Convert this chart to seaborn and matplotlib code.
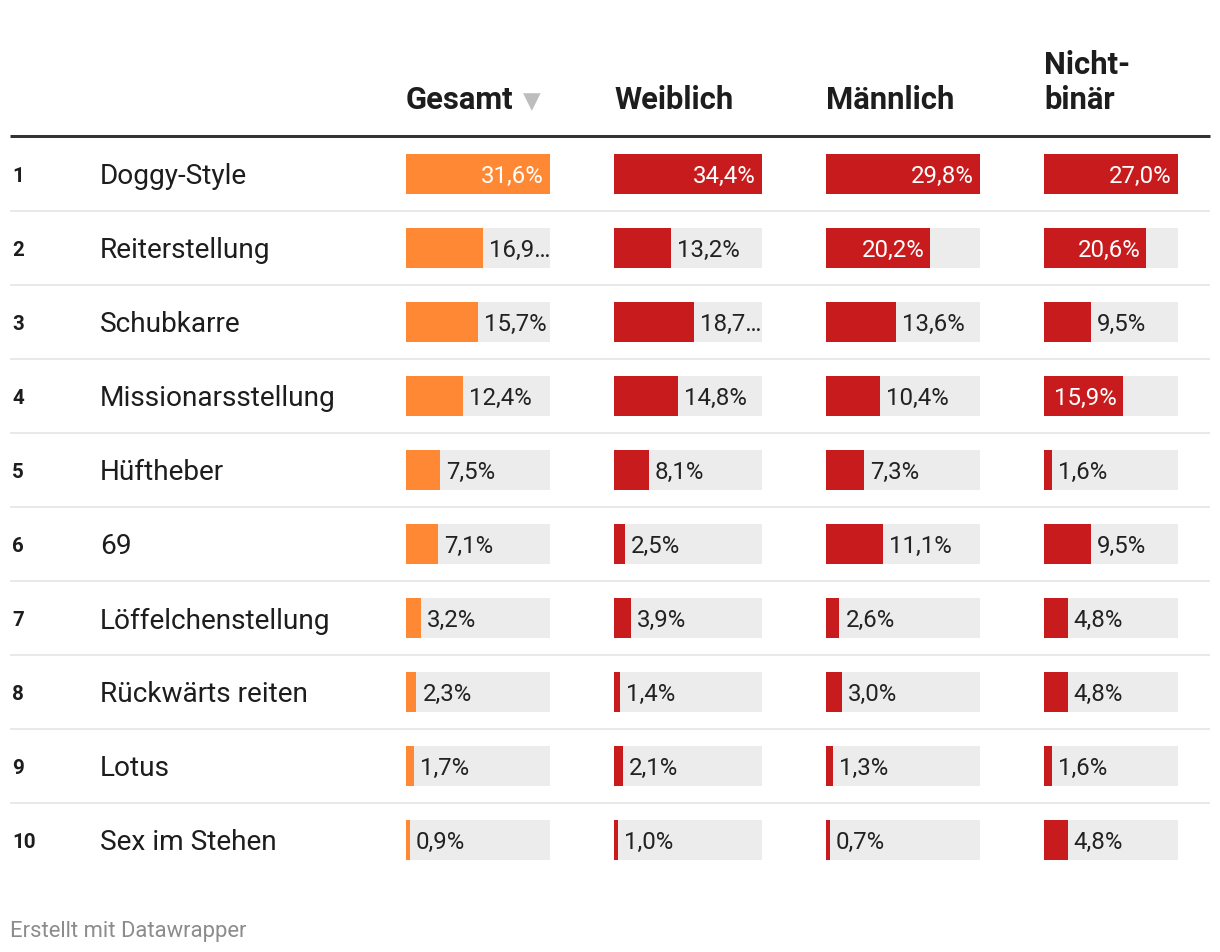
import matplotlib
matplotlib.use("Agg")
import matplotlib.pyplot as plt
import seaborn as sns
import pandas as pd

# ---------------- data ----------------
ranks = ["1", "2", "3", "4", "5", "6", "7", "8", "9", "10"]
positions = ["Doggy-Style", "Reiterstellung", "Schubkarre", "Missionarsstellung",
             "Hüftheber", "69", "Löffelchenstellung", "Rückwärts reiten",
             "Lotus", "Sex im Stehen"]
columns = ["Gesamt", "Weiblich", "Männlich", "Nicht-\nbinär"]
gesamt = [31.6, 16.9, 15.7, 12.4, 7.5, 7.1, 3.2, 2.3, 1.7, 0.9]
weiblich = [34.4, 13.2, 18.7, 14.8, 8.1, 2.5, 3.9, 1.4, 2.1, 1.0]
maennlich = [29.8, 20.2, 13.6, 10.4, 7.3, 11.1, 2.6, 3.0, 1.3, 0.7]
nichtbinaer = [27.0, 20.6, 9.5, 15.9, 1.6, 9.5, 4.8, 4.8, 1.6, 4.8]
series = [gesamt, weiblich, maennlich, nichtbinaer]
footer = "Erstellt mit Datawrapper"

# ---------------- style ----------------
sns.set_theme(style="white")
plt.rcParams["font.family"] = ["Roboto", "DejaVu Sans"]

W, H = 1220, 952
fig = plt.figure(figsize=(W / 100, H / 100), dpi=100)
PX = 0.72  # points per pixel

ORANGE = "#fe8833"
RED = "#c71b1d"
GREY = "#ececec"
DARK = "#1d1d1d"

bg = fig.add_axes([0, 0, 1, 1])
bg.set_xlim(0, W)
bg.set_ylim(H, 0)
bg.axis("off")

col_x = [406, 614, 826, 1044]
col_w = [144, 148, 154, 134]
row_top = 137
row_h = 74
n = len(positions)

HDR = 31 * PX
# header
for cx, name in zip(col_x, columns):
    if "\n" in name:
        a, b = name.split("\n")
        bg.text(cx, 74, a, ha="left", va="baseline", fontsize=HDR,
                fontweight="bold", color=DARK)
        bg.text(cx, 109, b, ha="left", va="baseline", fontsize=HDR,
                fontweight="bold", color=DARK)
    else:
        bg.text(cx, 109, name, ha="left", va="baseline", fontsize=HDR,
                fontweight="bold", color=DARK)
bg.text(523, 108, "▼", ha="left", va="baseline", fontsize=23 * PX,
        color="#bdbdbd", family=["DejaVu Sans"])

bg.plot([10, 1210], [136, 136], color="#333333", lw=3 * PX,
        solid_capstyle="butt")
for k in range(1, n):
    y = row_top + k * row_h
    bg.plot([10, 1210], [y, y], color="#e9e9e9", lw=2 * PX,
            solid_capstyle="butt")

for i in range(n):
    yc = row_top + row_h * i + row_h / 2
    bg.text(12, yc, ranks[i], ha="left", va="center_baseline",
            fontsize=20.5 * PX, fontweight="bold", color=DARK)
    bg.text(100, yc, positions[i], ha="left", va="center_baseline",
            fontsize=28 * PX, color="#1d1d1d")

bg.text(10, 929, footer, ha="left", va="center_baseline", fontsize=22 * PX,
        color="#8c8c8c")

# bar columns
for j, (cx, cw, vals) in enumerate(zip(col_x, col_w, series)):
    ax = fig.add_axes([cx / W, 1 - (row_top + n * row_h) / H,
                       cw / W, n * row_h / H])
    vmax = max(vals)
    df = pd.DataFrame({"pos": positions, "val": vals, "full": [vmax] * n})
    sns.barplot(data=df, x="full", y="pos", ax=ax, color=GREY, width=40 / 74,
                saturation=1, linewidth=0, orient="h")
    sns.barplot(data=df, x="val", y="pos", ax=ax,
                color=ORANGE if j == 0 else RED, width=40 / 74,
                saturation=1, linewidth=0, orient="h")
    ax.set_xlim(0, vmax)
    ax.set_ylim(n - 0.5, -0.5)
    ax.axis("off")
    ax.patch.set_alpha(0)
    for i, v in enumerate(vals):
        frac = v / vmax
        lab = f"{v:.1f}".replace(".", ",") + "%"
        if frac >= 0.56:
            ax.annotate(lab, xy=(v, i), xytext=(-6 * PX, 0),
                        textcoords="offset points", ha="right",
                        va="center_baseline", fontsize=24 * PX, color="white")
        else:
            if frac > 0.52:
                lab = lab[:-1] + "…"
            ax.annotate(lab, xy=(v, i), xytext=(6 * PX, 0),
                        textcoords="offset points", ha="left",
                        va="center_baseline", fontsize=24 * PX, color="#222222")

fig.savefig("out.png", dpi=100)
